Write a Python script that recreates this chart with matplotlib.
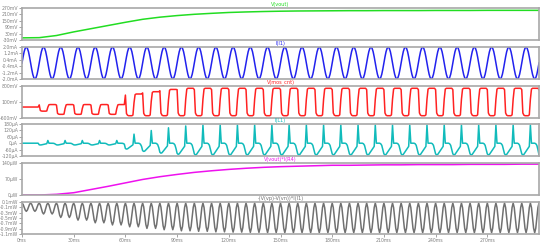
import numpy as np
import matplotlib.pyplot as plt

# time axis (ms) and sampling of one 10 ms cycle
PERIOD_MS = 10
N_CYCLES = 30
SAMPLES_PER_CYCLE = 16

# slow signals read every 10 ms
T_SLOW = list(range(0, 301, 10))
VOUT_MV = [-10, -8, 12, 46, 76, 106, 136, 164, 184, 199, 211, 220, 228, 233, 237,
           240, 242, 243, 244, 245, 245, 246, 246, 246, 247, 247, 247, 248, 248, 248, 248]
P_R4_UW = [0, 0, 3, 10, 24, 38, 53, 68, 80, 90, 99, 106, 112, 117, 121,
           124, 126, 128, 130, 130, 131, 132, 132, 133, 133, 133, 134, 134, 134, 135, 135]

# one cycle of the inductor current source, normalised
SINE_SHAPE = [0, 0.38, 0.71, 0.92, 1.0, 0.92, 0.71, 0.38,
              0, -0.38, -0.71, -0.92, -1.0, -0.92, -0.71, -0.38]
I_L1_AMP_MA = 2.0

# V(mos_cnt): normalised pulse shape and per-cycle low/high levels (mV)
MOS_SHAPE = [0.95, 0.1, 0.02, 0, 0, 0, 0, 0.03,
             0.6, 0.97, 1, 1, 1, 1, 1, 1]
MOS_LOW = [-120, -300, -440, -440, -440, -440, -500, -500, -500, -500,
           -500, -500, -500, -500, -500, -500, -500, -500, -500, -500,
           -500, -500, -500, -500, -500, -500, -500, -500, -500, -500]
MOS_HIGH = [-120, -12, -12, -12, -12, -12, 450, 550, 650, 700,
            700, 700, 700, 700, 700, 700, 700, 700, 700, 700,
            700, 700, 700, 700, 700, 700, 700, 700, 700, 700]

# I(L1): one cycle shape (uA) and per-cycle scale
IL1_SHAPE = [-100, -110, -105, -90, -75, -60, -45, -30,
             170, 0, 0, 0, 0, -5, -20, -60]
IL1_SCALE = [0, 0.15, 0.15, 0.15, 0.15, 0.15, 0.5, 0.7, 0.85, 0.95,
             1, 1, 1, 1, 1, 1, 1, 1, 1, 1,
             1, 1, 1, 1, 1, 1, 1, 1, 1, 1]

# -(V(vp)-V(vn))*I(l1): half cycle shape and trough per 10 ms (mW)
PWR_SHAPE = [0, 0.15, 0.5, 0.85, 1, 0.85, 0.5, 0.15]
PWR_PEAK = 0.06
PWR_TROUGH = [-0.25, -0.35, -0.48, -0.58, -0.68, -0.76, -0.83, -0.89, -0.94, -0.98,
              -1.0, -1.02, -1.03, -1.04, -1.05, -1.05, -1.05, -1.05, -1.05, -1.05,
              -1.05, -1.05, -1.05, -1.05, -1.05, -1.05, -1.05, -1.05, -1.05, -1.05]

T_TICKS = [0, 30, 60, 90, 120, 150, 180, 210, 240, 270]

panels = [
    ("V(vout)", "#22dd22", (-30, 270), [270, 210, 150, 90, 30, -30], "mV"),
    ("I(l1)", "#2222ee", (-2.0, 2.0), [2.0, 1.2, 0.4, -0.4, -1.2, -2.0], "mA"),
    ("V(mos_cnt)", "#ff2222", (-600, 800), [800, 100, -600], "mV"),
    ("I(L1)", "#11bbbb", (-120, 180), [180, 120, 60, 0, -60, -120], "µA"),
    ("V(vout)*I(R4)", "#ee11ee", (0, 140), [140, 70, 0], "µW"),
    ("-(V(vp)-V(vn))*I(l1)", "#707070", (-1.1, 0.1), [0.1, -0.1, -0.3, -0.5, -0.7, -0.9, -1.1], "mW"),
]


def fast_time():
    n = N_CYCLES * SAMPLES_PER_CYCLE
    return np.arange(n + 1) * PERIOD_MS / SAMPLES_PER_CYCLE


def tiled(shape, per_cycle):
    per = np.repeat(per_cycle, len(shape))
    y = np.tile(shape, len(per_cycle)) * per
    return np.append(y, y[0])


def fmt(v, unit):
    if unit in ("mA", "mW"):
        return f"{v:.1f}{unit}"
    return f"{v:g}{unit}"


W, H = 550, 248
fig = plt.figure(figsize=(W / 100, H / 100), dpi=100)
left, right = 22, 539
tops = [8, 47, 86, 124, 163, 202]
height = 32
grey = "#a8a8a8"
tick_col = "#808080"

t = fast_time()
sine = tiled(SINE_SHAPE, [I_L1_AMP_MA] * N_CYCLES)

mos = np.repeat(MOS_LOW, SAMPLES_PER_CYCLE) + np.tile(MOS_SHAPE, N_CYCLES) * np.repeat(
    np.array(MOS_HIGH) - np.array(MOS_LOW), SAMPLES_PER_CYCLE)
mos = np.append(mos, mos[-SAMPLES_PER_CYCLE])

il1 = tiled(IL1_SHAPE, IL1_SCALE)
il1[-1] = il1[-SAMPLES_PER_CYCLE]

pwr_tr = np.repeat(PWR_TROUGH, 2)
pwr = PWR_PEAK + np.tile(PWR_SHAPE, 2 * N_CYCLES) * np.repeat(pwr_tr - PWR_PEAK, len(PWR_SHAPE))
pwr = np.append(pwr, PWR_PEAK)

series = [
    (T_SLOW, VOUT_MV),
    (t, sine),
    (t, mos),
    (t, il1),
    (T_SLOW, P_R4_UW),
    (t, pwr),
]

for i, (title, col, ylim, yt, unit) in enumerate(panels):
    ax = fig.add_axes([left / W, 1 - (tops[i] + height) / H, (right - left) / W, height / H])
    x, y = series[i]
    ax.plot(x, y, color=col, lw=1.1)
    ax.set_xlim(0, 300)
    ax.set_ylim(*ylim)
    ax.set_yticks(yt)
    ax.set_yticklabels([fmt(v, unit) for v in yt])
    ax.set_xticks(T_TICKS)
    if i == len(panels) - 1:
        ax.set_xticklabels([f"{v}ms" for v in T_TICKS])
    else:
        ax.set_xticklabels([])
    ax.tick_params(axis="both", length=2, width=0.5, color=tick_col, labelcolor=tick_col,
                   labelsize=3.3, pad=0.8)
    ax.tick_params(axis="x", length=0 if i < len(panels) - 1 else 2)
    for s in ax.spines.values():
        s.set_color(grey)
        s.set_linewidth(1.2)
    ax.text(0.5, 1.03, title, transform=ax.transAxes, ha="center", va="bottom",
            color=col, fontsize=3.6)

fig.savefig("out.png", dpi=100)
